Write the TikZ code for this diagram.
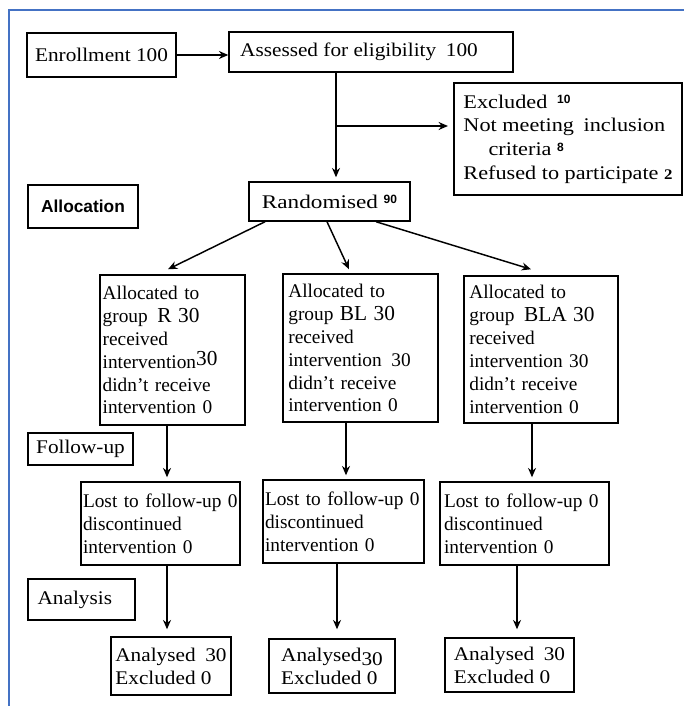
\documentclass[tikz,border=0pt]{standalone}
\usepackage{fontspec}
\setmainfont{Liberation Serif}
\setsansfont{Liberation Sans}
\newfontfamily\widerm[FakeStretch=1.1]{Liberation Serif}
\newfontfamily\widerx[FakeStretch=1.2]{Liberation Serif}
\newfontfamily\widery[FakeStretch=1.15]{Liberation Serif}
\usetikzlibrary{arrows.meta}
\definecolor{framebl}{RGB}{68,114,196}
\newcommand{\supnum}[1]{\raisebox{0.5ex}{\sffamily\bfseries\fontsize{9}{9}\selectfont #1}}
\newcommand{\lownum}[1]{{\bfseries\fontsize{11}{11}\selectfont #1}}
\newcommand{\bignum}[1]{{\fontsize{16}{17}\selectfont #1}}

\begin{document}
\begin{tikzpicture}[x=0.75pt,y=-0.75pt,>={Stealth[length=7pt,width=6pt]},
  box/.style={draw,line width=1.1pt,align=left,inner xsep=2pt,inner ysep=1pt,
    font=\fontsize{14.5}{17.2}\selectfont},
  wbox/.style={box,font=\widerm\fontsize{14.5}{17.2}\selectfont},
  link/.style={->,line width=1.1pt}]
  \useasboundingbox (0,0) rectangle (684,706);
  \draw[framebl,line width=1.2pt] (684,10) -- (9,10) -- (9,706);
  \node[wbox,minimum width=111.75pt,minimum height=33pt] (enrol) at (101.5,55){Enrollment 100};
  \node[wbox,minimum width=213pt,minimum height=30pt] (assess) at (371,52)
       {Assessed for eligibility\enspace 100\hspace*{18pt}};
  \node[box,font=\widery\fontsize{14.5}{17.8}\selectfont,
        minimum width=171pt,minimum height=84pt] (excl) at (568,139)
       {Excluded\enspace\supnum{10}\\Not meeting\enspace inclusion\\
        \hspace*{1.3em}criteria \supnum{8}\\Refused to participate \lownum{2}};
  \node[box,minimum width=82.5pt,minimum height=32.25pt,
        font=\sffamily\bfseries\fontsize{13}{15}\selectfont] (alloc) at (83,206.5){Allocation};
  \node[box,font=\widerx\fontsize{14.5}{17}\selectfont,minimum width=120.75pt,
        minimum height=29.25pt] (rand) at (329.5,201.5){Randomised \supnum{90}};
  \node[box,text width=104.75pt,minimum height=112.5pt] (grpR) at (172.5,350)
       {Allocated to\\group\enspace\bignum{R 30}\\received\\intervention\raisebox{2pt}{\bignum{30}}\\
        didn't receive\\intervention 0};
  \node[box,text width=108.25pt,inner xsep=4pt,minimum height=111pt] (grpBL) at (360.5,348)
       {Allocated to\\group \bignum{BL 30}\\received\\intervention\enspace 30\\
        didn't receive\\intervention 0};
  \node[box,text width=107.5pt,inner xsep=4pt,minimum height=110.25pt] (grpBLA) at (541,349.5)
       {Allocated to\\group\enspace\bignum{BLA 30}\\received\\intervention 30\\
        didn't receive\\intervention 0};
  \node[wbox,minimum width=78.75pt,minimum height=24pt] (follow) at (80.5,449){Follow-up};
  \node[box,text width=116.25pt,inner xsep=1.5pt,minimum height=62.25pt] (lostR) at (160.5,523.5)
       {Lost to follow-up 0\\discontinued\\intervention 0};
  \node[box,text width=117.75pt,inner xsep=1.5pt,minimum height=62.25pt] (lostBL) at (343.5,521.5)
       {Lost to follow-up 0\\discontinued\\intervention 0};
  \node[box,text width=120.75pt,inner xsep=3pt,minimum height=62.25pt] (lostBLA) at (524.5,523.5)
       {Lost to follow-up 0\\discontinued\\intervention 0};
  \node[wbox,minimum width=80.25pt,minimum height=30.75pt] (analysis) at (81.5,599.5)
       {Analysis\hspace*{10pt}};
  \node[wbox,minimum width=90pt,minimum height=43.5pt] (anR) at (171,666)
       {Analysed\enspace 30\\Excluded 0};
  \node[wbox,minimum width=94.5pt,minimum height=40.5pt] (anBL) at (332,666)
       {Analysed\raisebox{-3pt}{30}\\Excluded 0};
  \node[wbox,minimum width=96.75pt,minimum height=40.5pt] (anBLA) at (509.5,665)
       {Analysed\enspace 30\\Excluded 0};
  \draw[link] (enrol.east) -- (enrol.east -| assess.west);
  \coordinate (split) at (336,126);
  \draw[link] (split |- assess.south) -- ([yshift=3pt]split |- rand.north);
  \draw[link] (split) -- ([xshift=-4pt]split -| excl.west);
  \draw[link] ([shift={(-64.5,0)}]rand.south) -- ([shift={(-4.5,-5)}]grpR.north);
  \draw[link] ([shift={(-2.5,0)}]rand.south) -- ([shift={(-11.5,-4)}]grpBL.north);
  \draw[link] ([shift={(46.5,0)}]rand.south) -- ([shift={(-10,-6)}]grpBLA.north);
  \draw[link] ([shift={(-5.5,0)}]grpR.south) -- ([shift={(6.5,-4)}]lostR.north);
  \draw[link] ([shift={(-14.5,0)}]grpBL.south) -- ([shift={(2.5,-4)}]lostBL.north);
  \draw[link] ([shift={(-9,0)}]grpBLA.south) -- ([shift={(7.5,-4)}]lostBLA.north);
  \draw[link] ([shift={(6.5,0)}]lostR.south) -- ([shift={(-4,-7)}]anR.north);
  \draw[link] ([shift={(-6.5,0)}]lostBL.south) -- ([shift={(5,-9)}]anBL.north);
  \draw[link] ([shift={(-7.5,0)}]lostBLA.south) -- ([shift={(7.5,-8)}]anBLA.north);
\end{tikzpicture}
\end{document}
